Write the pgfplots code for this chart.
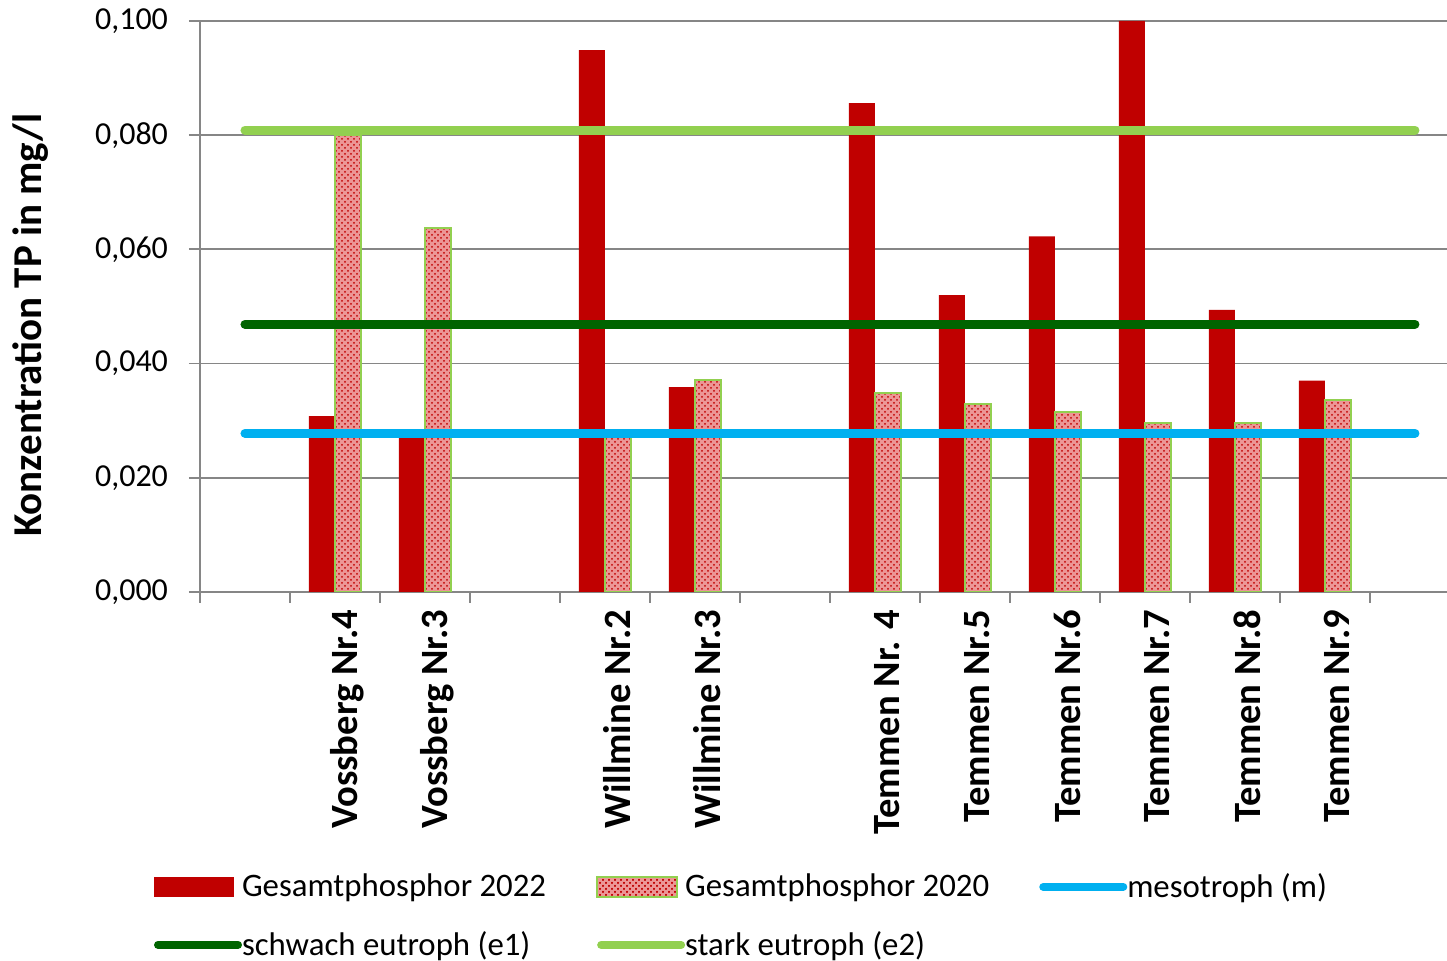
\documentclass[border=0pt]{standalone}
\usepackage{fontspec}
\setmainfont{Carlito}
\usepackage{pgfplots}
\pgfplotsset{compat=1.18}
\usetikzlibrary{patterns}
\definecolor{barred}{RGB}{192,0,0}
\definecolor{barpink}{RGB}{236,150,150}
\definecolor{lgreen}{RGB}{146,208,80}
\definecolor{dgreen}{RGB}{0,100,0}
\definecolor{lblue}{RGB}{0,176,240}
\definecolor{gridgray}{RGB}{134,134,134}
\begin{document}
\begin{tikzpicture}
\begin{axis}[
  name=main, at={(0,0)}, anchor=south west,
  scale only axis, width=623.5pt, height=285.5pt,
  xmin=-0.5, xmax=13.356, ymin=0, ymax=0.1,
  axis x line*=bottom, axis y line*=left,
  axis line style={gridgray, line width=0.9pt},
  ymajorgrids, major grid style={gridgray, line width=0.9pt},
  ytick={0,0.02,0.04,0.06,0.08,0.1},
  scaled y ticks=false,
  xtick={-0.5,0.5,...,12.5}, xticklabels={},
  tick align=outside, major tick length=5.5pt,
  tick style={gridgray, line width=0.9pt},
  extra x ticks={1,2,4,5,7,8,9,10,11,12},
  extra x tick labels={Vossberg Nr.4, Vossberg Nr.3, Willmine Nr.2, Willmine Nr.3, Temmen Nr. 4, Temmen Nr.5, Temmen Nr.6, Temmen Nr.7, Temmen Nr.8, Temmen Nr.9},
  extra x tick style={tick style={draw=none}, tick label style={rotate=90, anchor=east, yshift=-6pt, font=\bfseries\fontsize{19.3}{23}\selectfont}},
  yticklabel style={font=\fontsize{16}{19}\selectfont, xshift=-7pt},
  /pgf/number format/.cd, fixed, fixed zerofill, precision=3, use comma, assume math mode=true, /pgfplots/.cd,
  ylabel={Konzentration TP in mg/l},
  ylabel style={font=\bfseries\fontsize{20.5}{24}\selectfont, at={(axis description cs:-0.136,0.467)}, anchor=center},
  legend columns=3,
  legend cell align=left,
  legend style={draw=none, fill=none, at={(axis description cs:-0.042,-0.478)}, anchor=north west,
    font=\fontsize{16.4}{19}\selectfont, row sep=11.5pt,
    nodes={inner xsep=2pt},
    /tikz/every odd column/.append style={column sep=-2pt},
    /tikz/every even column/.append style={column sep=23pt}},
]
\addplot[ybar, bar width=13pt, bar shift=-6.5pt, fill=barred, draw=none,
  legend image code/.code={\fill[barred] (0pt,-5pt) rectangle (40pt,5pt);}]
  coordinates {(1,0.0308) (2,0.0285) (4,0.0949) (5,0.0359) (7,0.0856) (8,0.0520) (9,0.0623) (10,0.1000) (11,0.0494) (12,0.0370)};
\addlegendentry{Gesamtphosphor 2022}
\addplot[ybar, bar width=13pt, bar shift=6.5pt, fill=barpink, draw=lgreen, line width=1pt,
  postaction={pattern=crosshatch dots, pattern color=barred},
  legend image code/.code={\draw[fill=barpink, draw=lgreen, line width=1pt, postaction={pattern=crosshatch dots, pattern color=barred}] (0pt,-5pt) rectangle (40pt,5pt);}]
  coordinates {(1,0.0800) (2,0.0637) (4,0.0271) (5,0.0371) (7,0.0348) (8,0.0329) (9,0.0315) (10,0.0296) (11,0.0296) (12,0.0336)};
\addlegendentry{Gesamtphosphor 2020}
\addplot[lblue, line width=4.5pt, line cap=round,
  legend image code/.code={\draw[lblue, line width=4pt, line cap=round] (2pt,0pt) -- (42pt,0pt);}]
  coordinates {(0,0.0278) (13,0.0278)};
\addlegendentry{mesotroph (m)}
\addplot[dgreen, line width=4.5pt, line cap=round,
  legend image code/.code={\draw[dgreen, line width=4pt, line cap=round] (2pt,0pt) -- (42pt,0pt);}]
  coordinates {(0,0.0469) (13,0.0469)};
\addlegendentry{schwach eutroph (e1)}
\addplot[lgreen, line width=4.5pt, line cap=round,
  legend image code/.code={\draw[lgreen, line width=4pt, line cap=round] (2pt,0pt) -- (42pt,0pt);}]
  coordinates {(0,0.0809) (13,0.0809)};
\addlegendentry{stark eutroph (e2)}
\end{axis}
\pgfresetboundingbox
\path[use as bounding box] (-100pt,-184.5pt) rectangle (623.5pt,296pt);
\end{tikzpicture}
\end{document}
